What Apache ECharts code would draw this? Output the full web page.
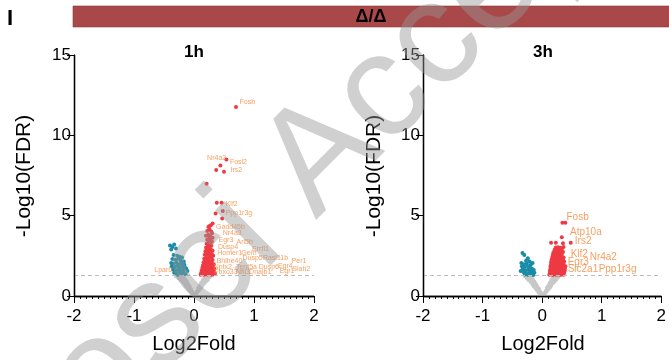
<!DOCTYPE html>
<html>
<head>
<meta charset="utf-8">
<script src="https://cdn.jsdelivr.net/npm/echarts@6/dist/echarts.min.js"></script>
<style>
  html, body { margin: 0; padding: 0; background: #fff; }
  #chart { width: 669px; height: 360px; }
</style>
</head>
<body>
<div id="chart"></div>
<script>
// panel names
const panels = ['1h', '3h'];
const xTicks = [-2, -1, 0, 1, 2];
const yTicks = [0, 5, 10, 15];
const fdrLine = 1.3;

// 1h : not significant (grey)
const grey1h = [[0.00,0.02],[-0.02,0.06],[0.02,0.05],[-0.01,0.12],[0.01,0.14],[-0.04,0.18],[0.04,0.20],
  [-0.03,0.26],[0.05,0.28],[-0.06,0.33],[0.06,0.35],[-0.05,0.42],[0.08,0.42],[-0.08,0.48],[0.07,0.50],
  [-0.10,0.55],[0.10,0.56],[-0.07,0.58],[0.09,0.62],[-0.11,0.65],[0.12,0.66],[-0.09,0.70],[0.11,0.72],
  [-0.13,0.76],[0.14,0.77],[-0.11,0.80],[0.12,0.82],[-0.15,0.86],[0.16,0.86],[-0.12,0.90],[0.14,0.92],
  [-0.17,0.95],[0.18,0.96],[-0.14,0.99],[0.15,1.01],[-0.19,1.04],[0.20,1.05],[-0.16,1.08],[0.17,1.10],
  [-0.21,1.12],[0.22,1.13],[-0.18,1.17],[0.19,1.18],[-0.24,1.20],[0.24,1.21],[-0.20,1.25],[0.21,1.26],
  [-0.27,1.27],[0.27,1.28],[-0.23,1.29],[0.30,1.29],[-0.30,1.22],[0.26,1.16],[-0.26,1.10],[0.23,1.00],
  [-0.22,0.98],[0.20,0.90],[-0.18,0.85],[0.17,0.78],[-0.15,0.70],[0.14,0.62],[-0.13,0.58],[0.12,0.50],
  [-0.10,0.45],[0.09,0.38],[-0.08,0.36],[0.06,0.25],[-0.05,0.22],[0.03,0.10]];

// 1h : down (blue)
const down1h = [[-0.40,3.15],[-0.36,3.05],[-0.33,3.20],[-0.38,2.90],[-0.30,2.95],
  [-0.34,2.55],[-0.28,2.50],[-0.24,2.45],[-0.20,2.40],
  [-0.36,2.30],[-0.31,2.25],[-0.26,2.32],[-0.22,2.20],[-0.17,2.15],
  [-0.38,2.05],[-0.34,2.00],[-0.29,2.08],[-0.25,1.98],[-0.21,2.02],[-0.16,1.95],
  [-0.37,1.85],[-0.32,1.80],[-0.28,1.88],[-0.24,1.78],[-0.19,1.84],[-0.14,1.75],
  [-0.35,1.65],[-0.30,1.60],[-0.26,1.68],[-0.22,1.58],[-0.18,1.63],[-0.13,1.70],[-0.11,1.55],
  [-0.33,1.45],[-0.29,1.40],[-0.25,1.48],[-0.21,1.38],[-0.17,1.44],[-0.14,1.35],[-0.27,1.33],[-0.31,1.52]];

// 1h : up (red)
const up1h = [[0.70,11.76],[0.54,8.50],[0.44,8.13],[0.50,7.74],[0.37,7.84],[0.21,6.99],
  [0.38,5.81],[0.46,5.81],[0.48,5.29],[0.36,5.14],[0.47,4.83],[0.26,4.36],[0.31,4.52],[0.28,4.40],[0.24,4.30],
  [0.11,1.32],[0.14,1.35],[0.17,1.33],[0.20,1.36],[0.23,1.34],[0.26,1.38],[0.29,1.33],[0.32,1.36],[0.35,1.40],
  [0.12,1.45],[0.15,1.48],[0.18,1.43],[0.21,1.50],[0.24,1.46],[0.27,1.52],[0.30,1.47],[0.33,1.55],
  [0.13,1.60],[0.16,1.63],[0.19,1.58],[0.22,1.66],[0.25,1.61],[0.28,1.68],[0.31,1.62],[0.34,1.70],
  [0.14,1.76],[0.17,1.80],[0.20,1.74],[0.23,1.83],[0.26,1.78],[0.29,1.86],[0.32,1.80],
  [0.15,1.92],[0.18,1.97],[0.21,1.90],[0.24,2.00],[0.27,1.95],[0.30,2.03],[0.33,1.98],
  [0.16,2.10],[0.19,2.15],[0.22,2.08],[0.25,2.20],[0.28,2.12],[0.31,2.24],
  [0.17,2.32],[0.20,2.38],[0.23,2.30],[0.26,2.44],[0.29,2.36],[0.32,2.50],
  [0.18,2.56],[0.21,2.62],[0.24,2.55],[0.27,2.68],[0.30,2.60],
  [0.19,2.78],[0.22,2.85],[0.25,2.76],[0.28,2.90],[0.31,2.82],
  [0.20,3.00],[0.23,3.08],[0.26,2.98],[0.29,3.12],
  [0.21,3.25],[0.24,3.32],[0.27,3.20],[0.30,3.38],
  [0.22,3.50],[0.25,3.58],[0.28,3.46],[0.31,3.62],
  [0.20,3.75],[0.24,3.82],[0.27,3.72],[0.30,3.90],
  [0.22,4.05],[0.26,4.12],[0.29,4.00]];

// 1h gene labels [name, x, y] (left edge of text)
const genes1h = [['Fosb',0.75,12.08],['Nr4a2',0.21,8.61],['Fosl2',0.59,8.36],['Irs2',0.60,7.84],
  ['Klf2',0.52,5.72],['Ppp1r3g',0.52,5.15],['Gadd45b',0.36,4.31],['Nr4a3',0.47,3.90],
  ['Egr3',0.40,3.48],['Arl5b',0.70,3.34],['Dusp4',0.39,3.07],['Errfi1',0.96,2.91],
  ['Homer1',0.38,2.66],['Gem',0.78,2.66],['Dusp5',0.80,2.35],['Rasl11b',1.14,2.35],
  ['Per1',1.62,2.16],['Bhlhe40',0.37,2.20],['Nptx2',0.32,1.82],['Tent5a',0.69,1.82],
  ['Dusp6',1.07,1.82],['Egr4',1.39,1.87],['Siah2',1.63,1.66],['Fbxo33',0.33,1.51],
  ['Nfil3',0.69,1.51],['Dnajb1',0.91,1.51],['Egr1',1.42,1.56],['Lpar6',-0.67,1.62]];

// 3h : not significant (grey)
const grey3h = [[0.00,0.02],[-0.02,0.07],[0.02,0.06],[-0.01,0.13],[0.02,0.15],[-0.05,0.19],[0.05,0.21],
  [-0.03,0.27],[0.06,0.29],[-0.07,0.34],[0.07,0.36],[-0.05,0.43],[0.09,0.43],[-0.09,0.49],[0.08,0.51],
  [-0.11,0.56],[0.11,0.57],[-0.08,0.59],[0.10,0.63],[-0.12,0.66],[0.13,0.67],[-0.10,0.71],[0.12,0.73],
  [-0.14,0.77],[0.15,0.78],[-0.12,0.81],[0.13,0.83],[-0.16,0.87],[0.17,0.87],[-0.13,0.91],[0.15,0.93],
  [-0.18,0.96],[0.19,0.97],[-0.15,1.00],[0.16,1.02],[-0.20,1.05],[0.21,1.06],[-0.17,1.09],[0.18,1.11],
  [-0.22,1.13],[0.23,1.14],[-0.19,1.18],[0.20,1.19],[-0.25,1.21],[0.26,1.22],[-0.21,1.26],[0.22,1.27],
  [-0.27,1.28],[0.29,1.28],[-0.24,1.29],[0.31,1.29],[-0.29,1.23],[0.27,1.17],[-0.26,1.12],[0.24,1.02],
  [-0.23,0.99],[0.21,0.91],[-0.19,0.86],[0.18,0.79],[-0.16,0.71],[0.15,0.63],[-0.14,0.59],[0.13,0.51],
  [-0.11,0.46],[0.10,0.39],[-0.09,0.37],[0.07,0.26],[-0.06,0.23],[0.04,0.11],[0.25,1.25],[-0.18,1.22]];

// 3h : down (blue)
const down3h = [[-0.30,2.55],[-0.24,2.35],[-0.33,2.68],[-0.27,2.20],[-0.21,2.15],
  [-0.35,2.05],[-0.31,1.98],[-0.26,2.02],[-0.19,1.95],[-0.16,2.05],
  [-0.34,1.85],[-0.29,1.80],[-0.24,1.86],[-0.20,1.76],[-0.17,1.70],
  [-0.33,1.65],[-0.28,1.60],[-0.23,1.66],[-0.18,1.56],[-0.14,1.62],
  [-0.31,1.48],[-0.27,1.42],[-0.22,1.50],[-0.17,1.40],[-0.13,1.45],
  [-0.29,1.34],[-0.24,1.32],[-0.20,1.35],[-0.15,1.31],[-0.36,1.55]];

// 3h : up (red)
const up3h = [[0.34,4.56],[0.39,4.56],[0.33,3.65],[0.15,3.32],[0.23,3.32],[0.35,3.28],[0.48,3.32],
  [0.12,1.32],[0.15,1.34],[0.18,1.31],[0.21,1.35],[0.24,1.33],[0.27,1.36],[0.30,1.32],[0.33,1.35],[0.36,1.33],
  [0.13,1.44],[0.16,1.46],[0.19,1.43],[0.22,1.47],[0.25,1.44],[0.28,1.46],[0.31,1.42],[0.34,1.47],[0.37,1.45],
  [0.13,1.57],[0.16,1.59],[0.19,1.56],[0.22,1.60],[0.25,1.57],[0.28,1.59],[0.31,1.55],[0.34,1.60],[0.38,1.58],
  [0.14,1.70],[0.17,1.72],[0.20,1.69],[0.23,1.73],[0.26,1.70],[0.29,1.72],[0.32,1.68],[0.35,1.73],[0.38,1.71],
  [0.14,1.84],[0.17,1.86],[0.20,1.83],[0.23,1.87],[0.26,1.84],[0.29,1.86],[0.32,1.82],[0.36,1.87],[0.39,1.85],
  [0.15,1.98],[0.18,2.00],[0.21,1.97],[0.24,2.01],[0.27,1.98],[0.30,2.00],[0.33,1.96],[0.36,2.01],
  [0.15,2.12],[0.18,2.14],[0.21,2.11],[0.24,2.15],[0.27,2.12],[0.30,2.14],[0.34,2.10],[0.37,2.15],
  [0.16,2.27],[0.19,2.29],[0.22,2.26],[0.25,2.30],[0.28,2.27],[0.31,2.29],[0.35,2.25],
  [0.17,2.42],[0.20,2.44],[0.23,2.41],[0.26,2.45],[0.29,2.42],[0.32,2.44],[0.36,2.40],
  [0.18,2.57],[0.21,2.59],[0.24,2.56],[0.27,2.60],[0.30,2.57],[0.33,2.59],
  [0.19,2.72],[0.22,2.74],[0.25,2.71],[0.28,2.75],[0.31,2.72],[0.35,2.74],
  [0.21,2.88],[0.24,2.90],[0.27,2.87],[0.30,2.91],[0.33,2.88],
  [0.23,3.02],[0.27,3.04],[0.31,3.01],[0.36,3.05]];

// 3h gene labels
const genes3h = [['Fosb',0.40,4.93],['Atp10a',0.46,3.96],['Irs2',0.54,3.38],['Klf2',0.47,2.62],
  ['Nr4a2',0.79,2.40],['Egr3',0.42,2.10],['Slc2a1',0.42,1.64],['Ppp1r3g',0.94,1.68]];

const RED = '#ef3a43', BLUE = '#198ca6', GREY = '#c8c8c8', ORANGE = '#f5873a';

const chart = echarts.init(document.getElementById('chart'));

const grids = [
  { left: 74, top: 55, width: 240, height: 241 },
  { left: 423, top: 55, width: 240, height: 241 }
];

function xAxisFor(i) {
  return {
    gridIndex: i, type: 'value', min: xTicks[0], max: xTicks[xTicks.length - 1], interval: 1,
    axisLine: { show: true, lineStyle: { color: '#000', width: 1.3 } },
    axisTick: { show: true, length: 7 },
    minorTick: { show: true, splitNumber: 10, length: 3 },
    splitLine: { show: false },
    axisLabel: { fontSize: 17, color: '#000', margin: 12 }
  };
}
function yAxisFor(i) {
  return {
    gridIndex: i, type: 'value', min: yTicks[0], max: yTicks[yTicks.length - 1], interval: 5,
    axisLine: { show: true, onZero: false, lineStyle: { color: '#000', width: 1.3 } },
    axisTick: { show: true, length: 7 },
    splitLine: { show: false },
    axisLabel: { fontSize: 17, color: '#000', margin: 3 }
  };
}

function dots(data, color, i, size) {
  return {
    type: 'scatter', xAxisIndex: i, yAxisIndex: i, data: data,
    symbolSize: size, itemStyle: { color: color, opacity: 1 }, silent: true
  };
}
function geneLabels(list, i, fs) {
  return {
    type: 'scatter', xAxisIndex: i, yAxisIndex: i, silent: true, z: 5,
    symbolSize: 1, itemStyle: { color: 'rgba(0,0,0,0)' },
    data: list.map(g => ({ name: g[0], value: [g[1], g[2]] })),
    label: { show: true, position: 'right', distance: 0, formatter: '{b}',
      color: ORANGE, fontSize: fs }
  };
}

const solid = { type: 'solid', color: '#000', width: 1.3 };
const series = [];
[[grey1h, down1h, up1h, genes1h, 7], [grey3h, down3h, up3h, genes3h, 10]].forEach((p, i) => {
  const g = dots(p[0], GREY, i, 4);
  // threshold line plus axis lines (drawn again so they always show)
  g.markLine = { silent: true, symbol: 'none', label: { show: false }, precision: 3,
    lineStyle: { type: [4, 3], color: '#bdbdbd', width: 1 },
    data: [{ yAxis: fdrLine },
      { xAxis: xTicks[0], lineStyle: solid },
      { yAxis: yTicks[0], lineStyle: solid }] };
  series.push(g, dots(p[1], BLUE, i, 4), dots(p[2], RED, i, 4), geneLabels(p[3], i, p[4]));
});

const txt = (t, x, y, font, rot) => ({ type: 'text', x: x, y: y, rotation: rot || 0, z: 11, silent: true,
  style: { text: t, font: font, fill: '#000', align: 'center', verticalAlign: 'middle' } });

chart.setOption({
  animation: false,
  grid: grids,
  xAxis: [xAxisFor(0), xAxisFor(1)],
  yAxis: [yAxisFor(0), yAxisFor(1)],
  series: series,
  graphic: [
    { type: 'rect', shape: { x: 73, y: 6, width: 600, height: 21 },
      style: { fill: '#a94848', stroke: '#8c3a3a', lineWidth: 0.6 }, z: 10 },
    txt('Δ/Δ', 371, 17, 'bold 18px Arial'),
    { type: 'text', x: 7, y: 19, z: 11,
      style: { text: 'I', font: 'bold 22px Arial', fill: '#000', align: 'left', verticalAlign: 'middle' } },
    txt(panels[0], 194, 52, 'bold 17px Arial'),
    txt(panels[1], 543, 52, 'bold 17px Arial'),
    txt('-Log10(FDR)', 24, 176, '21px Arial', Math.PI / 2),
    txt('-Log10(FDR)', 374, 176, '21px Arial', Math.PI / 2),
    txt('Log2Fold', 194, 344, '20px Arial'),
    txt('Log2Fold', 543, 344, '20px Arial'),
    // watermark
    { type: 'text', x: -155, y: 738, rotation: 45 * Math.PI / 180, z: 20, silent: true,
      style: { text: 'JNeurosci Accepted Manuscript', font: '148px Arial',
        fill: 'rgba(150,150,150,0.45)', align: 'left', verticalAlign: 'bottom' } }
  ]
});
</script>
</body>
</html>
